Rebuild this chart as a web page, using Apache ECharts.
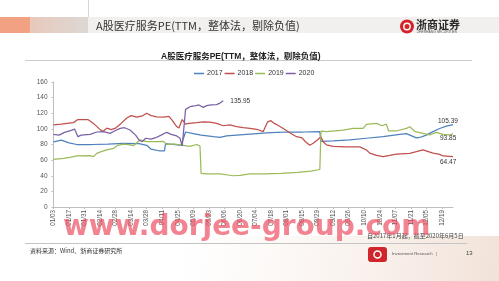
<!DOCTYPE html>
<html><head><meta charset="utf-8">
<script src="https://cdn.jsdelivr.net/npm/echarts@6/dist/echarts.min.js"></script>
<style>html,body{margin:0;padding:0;background:#fff}#c{width:499px;height:281px}</style>
</head><body><div id="c"></div>
<script>
// ---- data ----
const seriesNames = ['2017', '2018', '2019', '2020'];
const tickLabels = ['01/03','01/17','01/31','02/14','02/28','03/14','03/28','04/11','04/25','05/09','05/23','06/06','06/20','07/04','07/18','08/01','08/15','08/29','09/12','09/26','10/10','10/24','11/07','11/21','12/05','12/19'];
const yTicks = [0, 20, 40, 60, 80, 100, 120, 140, 160];

const pe2017 = [['01/03',83.5],['01/10',85.5],['01/17',82],['01/24',80],['02/07',80],['02/21',80.5],['03/07',81.5],['03/21',81],['03/28',79],['04/01',74],['04/08',72],['04/13',72],['04/14',81],['04/21',80],['04/28',79],['05/02',96],['05/09',94],['05/16',92],['05/27',90],['06/02',89],['06/08',91],['06/17',92],['06/26',93],['07/05',94],['07/14',95],['07/23',95.5],['08/04',96],['08/16',96],['08/31',96.5],['09/01',84],['09/12',84.5],['09/27',86],['10/12',88],['10/27',90],['11/11',93],['11/17',94],['11/26',88.5],['11/29',89],['12/05',92],['12/11',96.5],['12/17',100.5],['12/23',103.5],['12/29',105.39]];

const pe2018 = [['01/03',105],['01/10',106],['01/17',107.5],['01/21',108],['01/25',112],['02/03',112],['02/08',107],['02/14',99],['02/17',97],['02/20',101],['02/24',99],['02/28',101],['03/05',107],['03/10',114],['03/14',117],['03/19',115],['03/24',116.5],['03/28',120],['04/01',117],['04/06',115.5],['04/12',115],['04/17',116],['04/20',111],['04/24',103],['04/26',101],['04/29',112],['05/02',106],['05/05',107],['05/12',108],['05/18',109],['05/24',108.5],['05/30',107],['06/05',104],['06/11',105],['06/17',103],['06/23',101.5],['06/29',100.7],['07/05',99.5],['07/11',96.5],['07/15',109],['07/18',110.5],['07/21',107],['07/25',104],['07/29',100.5],['08/05',94],['08/10',90],['08/15',88.5],['08/18',83.5],['08/22',79],['08/25',81.5],['08/29',86],['09/01',90],['09/03',83.5],['09/06',79.5],['09/12',77.5],['09/24',77],['10/06',77],['10/12',73],['10/15',69],['10/21',66],['10/27',64.5],['11/02',66],['11/08',67.8],['11/20',68.7],['11/26',70.8],['12/02',73],['12/11',69],['12/17',67.4],['12/20',65.3],['12/29',64.47]];

const pe2019 = [['01/03',61],['01/12',62.3],['01/18',63.6],['01/24',65.5],['02/05',65.7],['02/08',64.5],['02/11',68.7],['02/15',70.9],['02/20',73],['02/26',75],['03/02',79],['03/07',80.6],['03/10',80.3],['03/16',78.5],['03/22',85.8],['03/28',83.7],['04/04',83.6],['04/12',84],['04/15',80],['04/21',80.7],['04/27',79.5],['05/06',77.5],['05/12',80],['05/15',78],['05/16',43],['05/21',42.3],['06/02',42.5],['06/14',40],['06/20',40.6],['06/29',42.5],['07/12',42.5],['07/27',43],['08/11',44.4],['08/23',46],['08/31',48],['09/01',97],['09/06',96.5],['09/21',98.5],['09/30',100.7],['10/09',100.7],['10/12',105.8],['10/21',107],['10/26',104],['10/30',106],['11/01',97.3],['11/08',97.3],['11/17',100.7],['11/20',102.8],['11/25',96.4],['12/02',94.3],['12/08',92.2],['12/14',95.6],['12/20',93],['12/26',92.2],['12/29',93.85]];

const pe2020 = [['01/03',93],['01/08',92],['01/13',95.5],['01/19',98],['01/22',99.7],['01/25',90],['01/28',92],['02/05',93],['02/11',96],['02/17',96.4],['02/23',94.3],['02/27',97.3],['03/04',100.7],['03/08',101.5],['03/13',98.5],['03/18',92],['03/21',85.8],['03/24',83.6],['03/27',88],['04/01',87],['04/05',88.7],['04/10',92],['04/15',95.6],['04/19',93],['04/24',91],['04/27',88],['04/29',78],['05/02',125],['05/06',128.4],['05/10',129.3],['05/14',130.6],['05/18',127.5],['05/21',129.7],['05/25',130.6],['05/30',131],['06/02',133],['06/05',135.95]];

// ---- axis categories: every calendar day 01/03 .. 12/29 ----
const days = [];
for (let t = Date.UTC(2018, 0, 3); t <= Date.UTC(2018, 11, 29); t += 86400000) {
  const d = new Date(t);
  days.push(String(d.getUTCMonth() + 1).padStart(2, '0') + '/' + String(d.getUTCDate()).padStart(2, '0'));
}
const tickSet = new Set(tickLabels);

const colors = ['#4f81bd', '#c0504d', '#9bbb59', '#7a62a4'];
const allData = [pe2017, pe2018, pe2019, pe2020];
const endOffsets = [[-20, -3], [-18, 6], [-18, 5], [2, 0]];

const FONT = "'Liberation Sans', 'Noto Sans CJK SC', sans-serif";
const chart = echarts.init(document.getElementById('c'), null, { renderer: 'canvas' });

chart.setOption({
  animation: false,
  backgroundColor: '#ffffff',
  textStyle: { fontFamily: FONT },
  color: colors,
  title: {
    text: 'A股医疗服务PE(TTM，整体法，剔除负值)',
    left: 156, top: 47.5,
    textStyle: { fontSize: 8.5, fontWeight: 'bold', color: '#222', fontFamily: FONT }
  },
  legend: {
    data: seriesNames,
    left: 189, top: 65,
    icon: 'rect', itemWidth: 10, itemHeight: 1.5, itemGap: 2,
    textStyle: { fontSize: 7, color: '#333', padding: [0, 0, 0, -2] }
  },
  grid: { left: 53.5, right: 46, top: 82, bottom: 74, containLabel: false },
  xAxis: {
    type: 'category', data: days, boundaryGap: false,
    axisLine: { lineStyle: { color: '#bdbdbd', width: 1 } },
    axisTick: { show: true, length: 2, interval: (i, v) => tickSet.has(v), lineStyle: { color: '#bdbdbd' } },
    axisLabel: { rotate: 90, fontSize: 6.3, color: '#555', margin: 3, interval: (i, v) => tickSet.has(v) },
    splitLine: { show: false }
  },
  yAxis: {
    type: 'value', min: yTicks[0], max: yTicks[yTicks.length - 1], interval: 20,
    axisLine: { show: true, lineStyle: { color: '#bdbdbd', width: 1 } },
    axisTick: { show: true, length: 2, lineStyle: { color: '#bdbdbd' } },
    axisLabel: { fontSize: 6.5, color: '#555', margin: 6 },
    splitLine: { show: false }
  },
  series: seriesNames.map((name, k) => ({
    name, type: 'line', data: allData[k], showSymbol: false, symbol: 'none',
    lineStyle: { width: 1.25, color: colors[k] },
    z: 3 + k,
    endLabel: {
      show: true, formatter: p => p.value[1].toFixed(2), fontSize: 6.5, color: '#333',
      offset: endOffsets[k], distance: 5
    }
  })),
  graphic: [
    // header band
    { type: 'rect', z: -10, shape: { x: 88, y: 17, width: 411, height: 16 }, style: { fill: '#f2f0ee' } },
    { type: 'rect', z: -10, shape: { x: 0, y: 17, width: 30, height: 16 }, style: { fill: '#f2a283' } },
    { type: 'rect', z: -10, shape: { x: 30, y: 17, width: 58, height: 16 },
      style: { fill: new echarts.graphic.LinearGradient(0, 0, 1, 0, [{ offset: 0, color: '#e8c9bb' }, { offset: 1, color: '#dcd8d4' }]) } },
    { type: 'line', z: -10, shape: { x1: 88.5, y1: 0, x2: 88.5, y2: 17 }, style: { stroke: '#d6d6d6', lineWidth: 1 } },
    { type: 'text', z: 5, style: { x: 96, y: 25.5, text: 'A股医疗服务PE(TTM，整体法，剔除负值)', fill: '#333', font: "11px 'Noto Sans CJK SC', sans-serif", verticalAlign: 'middle' } },
    // top-right logo
    { type: 'circle', z: 5, shape: { cx: 407, cy: 26.5, r: 7 }, style: { fill: '#d4242b' } },
    { type: 'circle', z: 6, shape: { cx: 407, cy: 26.5, r: 3.2 }, style: { fill: 'none', stroke: '#ffffff', lineWidth: 1.4 } },
    { type: 'text', z: 5, style: { x: 416, y: 25, text: '浙商证券', fill: '#2a2a2a', font: "bold 11px 'Noto Sans CJK SC', sans-serif", verticalAlign: 'middle' } },
    { type: 'text', z: 5, style: { x: 417, y: 32.3, text: 'ZHESHANG SECURITIES', fill: '#555', font: "3.4px 'Liberation Sans', sans-serif", verticalAlign: 'middle' } },
    // line under chart title
    { type: 'line', z: 1, shape: { x1: 25, y1: 60.5, x2: 472, y2: 60.5 }, style: { stroke: '#cccccc', lineWidth: 1 } },
    // bottom-right background tint
    { type: 'rect', z: -10, shape: { x: 180, y: 236, width: 319, height: 45 },
      style: { fill: new echarts.graphic.LinearGradient(0, 0, 1, 1, [{ offset: 0, color: 'rgba(245,232,224,0)' }, { offset: 1, color: 'rgba(236,214,200,0.7)' }]) } },
    // footer
    { type: 'text', z: 5, style: { x: 367, y: 235.5, text: '自2017年1月起，截至2020年6月5日', fill: '#444', font: "6px 'Noto Sans CJK SC', sans-serif", verticalAlign: 'middle' } },
    { type: 'line', z: 1, shape: { x1: 25, y1: 243.5, x2: 467, y2: 243.5 }, style: { stroke: '#c4c4c4', lineWidth: 1 } },
    { type: 'text', z: 5, style: { x: 30, y: 251, text: '资料来源：Wind、浙商证券研究所', fill: '#333', font: "6px 'Noto Sans CJK SC', sans-serif", verticalAlign: 'middle' } },
    { type: 'rect', z: 5, shape: { x: 368, y: 247, width: 19, height: 15, r: 3 }, style: { fill: '#d0262b' } },
    { type: 'circle', z: 6, shape: { cx: 377.5, cy: 254.5, r: 3.5 }, style: { fill: 'none', stroke: '#ffffff', lineWidth: 1.5 } },
    { type: 'text', z: 5, style: { x: 392, y: 253.5, text: 'Investment Research   |', fill: '#555', font: "4.3px 'Liberation Sans', sans-serif", verticalAlign: 'middle' } },
    { type: 'text', z: 5, style: { x: 466, y: 253.5, text: '13', fill: '#444', font: "6px 'Liberation Sans', sans-serif", verticalAlign: 'middle' } },
    // watermark
    { type: 'text', z: 100, style: { x: 63, y: 227.5, text: 'www.dorjee-group.com', fill: 'rgba(236,80,100,0.7)', font: "bold 28px 'DejaVu Sans', sans-serif", verticalAlign: 'middle' } }
  ]
});
</script></body></html>
